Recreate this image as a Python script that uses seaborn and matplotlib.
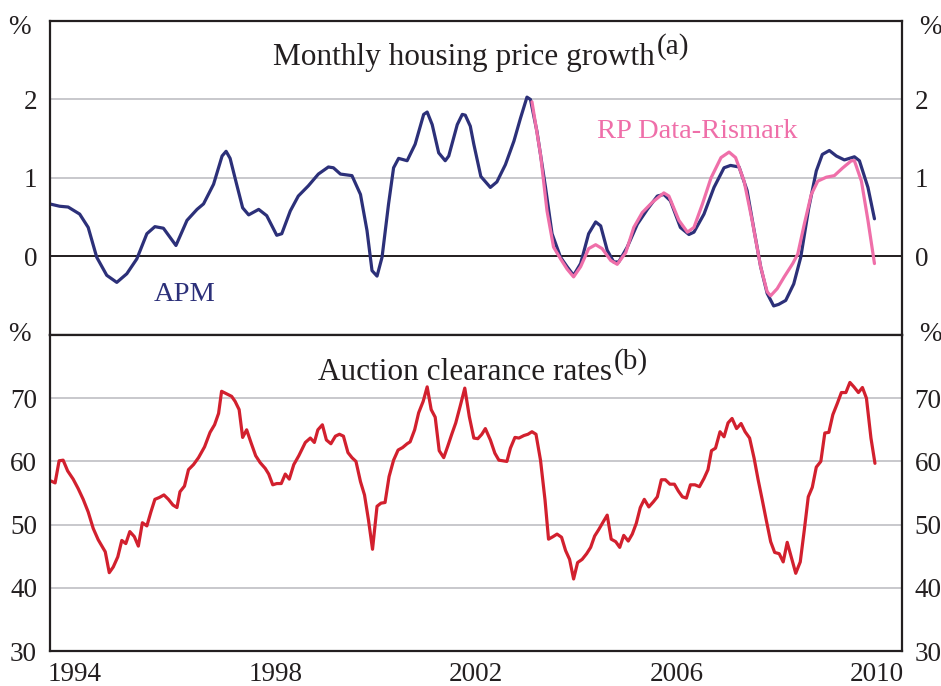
import matplotlib.pyplot as plt
import pandas as pd
import seaborn as sns

# monthly housing price growth, %
apm_year = [1994.0, 1994.2, 1994.37, 1994.6, 1994.77, 1994.94, 1995.14, 1995.34, 1995.54, 1995.74,
            1995.94, 1996.1, 1996.27, 1996.52, 1996.74, 1996.94, 1997.07, 1997.27, 1997.44, 1997.52,
            1997.6, 1997.73, 1997.85, 1997.97, 1998.17, 1998.33, 1998.53, 1998.63, 1998.8, 1998.96,
            1999.16, 1999.36, 1999.56, 1999.66, 1999.8, 2000.03, 2000.2, 2000.33, 2000.43, 2000.53,
            2000.63, 2000.76, 2000.86, 2000.96, 2001.13, 2001.29, 2001.46, 2001.53, 2001.63, 2001.76,
            2001.89, 2001.96, 2002.13, 2002.23, 2002.29, 2002.39, 2002.46, 2002.6, 2002.79, 2002.92,
            2003.09, 2003.26, 2003.39, 2003.52, 2003.59, 2003.72, 2003.89, 2004.02, 2004.19, 2004.32,
            2004.45, 2004.59, 2004.75, 2004.89, 2004.99, 2005.12, 2005.25, 2005.35, 2005.52, 2005.72,
            2005.92, 2006.12, 2006.25, 2006.38, 2006.58, 2006.75, 2006.85, 2007.05, 2007.25, 2007.45,
            2007.58, 2007.75, 2007.91, 2008.05, 2008.18, 2008.31, 2008.44, 2008.54, 2008.68, 2008.84,
            2008.98, 2009.14, 2009.29, 2009.41, 2009.55, 2009.69, 2009.85, 2010.05, 2010.15, 2010.32,
            2010.45]
apm_growth = [0.67, 0.64, 0.63, 0.54, 0.37, -0.01, -0.24, -0.33, -0.22, -0.03,
              0.29, 0.38, 0.36, 0.14, 0.46, 0.60, 0.67, 0.92, 1.28, 1.34,
              1.25, 0.92, 0.62, 0.53, 0.60, 0.52, 0.27, 0.29, 0.58, 0.77,
              0.90, 1.05, 1.14, 1.13, 1.05, 1.03, 0.79, 0.33, -0.18, -0.25,
              -0.01, 0.67, 1.13, 1.25, 1.22, 1.43, 1.81, 1.84, 1.68, 1.32,
              1.22, 1.28, 1.68, 1.81, 1.80, 1.66, 1.43, 1.02, 0.88, 0.95,
              1.17, 1.47, 1.76, 2.03, 2.00, 1.59, 0.88, 0.29, -0.01, -0.13,
              -0.24, -0.09, 0.29, 0.44, 0.39, 0.08, -0.07, -0.07, 0.12, 0.41,
              0.60, 0.77, 0.79, 0.71, 0.37, 0.28, 0.31, 0.54, 0.88, 1.13,
              1.16, 1.14, 0.84, 0.33, -0.13, -0.47, -0.63, -0.61, -0.56, -0.35,
              -0.01, 0.62, 1.09, 1.30, 1.35, 1.28, 1.23, 1.27, 1.22, 0.88,
              0.48]

rp_year = [2003.62, 2003.79, 2003.92, 2004.05, 2004.19, 2004.32, 2004.45, 2004.59, 2004.75, 2004.89,
           2005.02, 2005.19, 2005.32, 2005.49, 2005.65, 2005.82, 2006.02, 2006.25, 2006.35, 2006.55,
           2006.72, 2006.85, 2007.02, 2007.19, 2007.39, 2007.55, 2007.68, 2007.85, 2008.01, 2008.18,
           2008.31, 2008.38, 2008.51, 2008.65, 2008.82, 2008.92, 2009.05, 2009.19, 2009.32, 2009.49,
           2009.65, 2009.82, 2009.99, 2010.05, 2010.19, 2010.32, 2010.45]
rp_growth = [1.97, 1.30, 0.58, 0.12, -0.03, -0.16, -0.26, -0.13, 0.10, 0.15,
             0.10, -0.05, -0.10, 0.05, 0.37, 0.56, 0.69, 0.81, 0.77, 0.46,
             0.31, 0.37, 0.67, 1.00, 1.26, 1.33, 1.26, 0.96, 0.46, -0.13,
             -0.45, -0.50, -0.41, -0.26, -0.09, 0.03, 0.41, 0.79, 0.96, 1.01,
             1.03, 1.13, 1.22, 1.22, 0.96, 0.46, -0.09]

# auction clearance rates, %
auction_year = [1994.03, 1994.11, 1994.19, 1994.27, 1994.36, 1994.47, 1994.57, 1994.67, 1994.77, 1994.87,
                1994.97, 1995.11, 1995.19, 1995.27, 1995.36, 1995.44, 1995.52, 1995.6, 1995.69, 1995.77,
                1995.85, 1995.94, 1996.02, 1996.1, 1996.19, 1996.28, 1996.37, 1996.46, 1996.54, 1996.6,
                1996.69, 1996.77, 1996.87, 1996.97, 1997.09, 1997.2, 1997.29, 1997.37, 1997.43, 1997.53,
                1997.63, 1997.7, 1997.78, 1997.85, 1997.93, 1998.02, 1998.11, 1998.2, 1998.3, 1998.37,
                1998.45, 1998.53, 1998.62, 1998.7, 1998.78, 1998.87, 1998.97, 1999.1, 1999.2, 1999.28,
                1999.35, 1999.44, 1999.52, 1999.61, 1999.7, 1999.78, 1999.86, 1999.95, 2000.03, 2000.11,
                2000.2, 2000.28, 2000.36, 2000.44, 2000.53, 2000.61, 2000.69, 2000.77, 2000.86, 2000.95,
                2001.04, 2001.13, 2001.19, 2001.28, 2001.36, 2001.45, 2001.53, 2001.61, 2001.69, 2001.77,
                2001.86, 2001.94, 2002.02, 2002.1, 2002.19, 2002.28, 2002.37, 2002.46, 2002.54, 2002.62,
                2002.69, 2002.79, 2002.88, 2002.96, 2003.12, 2003.19, 2003.28, 2003.36, 2003.46, 2003.54,
                2003.62, 2003.7, 2003.79, 2003.88, 2003.95, 2004.04, 2004.12, 2004.21, 2004.29, 2004.37,
                2004.45, 2004.53, 2004.62, 2004.71, 2004.79, 2004.87, 2004.95, 2005.03, 2005.12, 2005.2,
                2005.29, 2005.37, 2005.45, 2005.54, 2005.62, 2005.7, 2005.78, 2005.86, 2005.95, 2006.04,
                2006.12, 2006.2, 2006.28, 2006.37, 2006.46, 2006.54, 2006.62, 2006.7, 2006.78, 2006.87,
                2006.96, 2007.05, 2007.13, 2007.2, 2007.28, 2007.37, 2007.45, 2007.53, 2007.61, 2007.7,
                2007.79, 2007.87, 2007.96, 2008.05, 2008.13, 2008.21, 2008.29, 2008.38, 2008.46, 2008.55,
                2008.63, 2008.71, 2008.79, 2008.88, 2008.97, 2009.05, 2009.13, 2009.21, 2009.29, 2009.38,
                2009.46, 2009.54, 2009.62, 2009.71, 2009.79, 2009.88, 2009.96, 2010.04, 2010.13, 2010.21,
                2010.29, 2010.38, 2010.46]
auction_rate = [56.9, 56.6, 60.1, 60.2, 58.5, 57.2, 55.7, 54.0, 52.0, 49.4,
                47.6, 45.7, 42.4, 43.3, 44.9, 47.5, 47.0, 48.9, 48.1, 46.6,
                50.3, 49.8, 52.0, 54.0, 54.3, 54.7, 54.0, 53.1, 52.7, 55.2,
                56.1, 58.7, 59.5, 60.6, 62.3, 64.6, 65.8, 67.6, 71.1, 70.7,
                70.3, 69.5, 68.2, 63.8, 65.0, 62.9, 60.9, 59.8, 58.9, 58.0,
                56.3, 56.5, 56.5, 58.0, 57.2, 59.5, 60.9, 63.0, 63.7, 63.0,
                65.0, 65.8, 63.4, 62.8, 64.0, 64.3, 64.0, 61.4, 60.6, 60.0,
                56.8, 54.7, 50.7, 46.1, 52.9, 53.4, 53.5, 57.6, 60.2, 61.8,
                62.2, 62.8, 63.1, 65.0, 67.7, 69.5, 71.8, 68.2, 67.0, 61.7,
                60.6, 62.4, 64.3, 66.1, 68.8, 71.6, 67.1, 63.7, 63.6, 64.3,
                65.2, 63.4, 61.3, 60.2, 60.0, 62.1, 63.8, 63.7, 64.1, 64.3,
                64.7, 64.3, 60.2, 53.9, 47.7, 48.1, 48.5, 48.0, 45.9, 44.5,
                41.4, 44.0, 44.5, 45.4, 46.4, 48.2, 49.2, 50.3, 51.5, 47.7,
                47.3, 46.4, 48.3, 47.4, 48.5, 50.2, 52.7, 54.0, 52.8, 53.6,
                54.4, 57.1, 57.1, 56.4, 56.4, 55.3, 54.4, 54.2, 56.3, 56.3,
                56.0, 57.3, 58.7, 61.7, 62.1, 64.7, 63.9, 66.1, 66.8, 65.2,
                66.0, 64.7, 63.7, 60.5, 57.1, 54.0, 50.8, 47.3, 45.6, 45.4,
                44.1, 47.2, 44.9, 42.3, 44.1, 49.1, 54.4, 55.9, 59.1, 60.0,
                64.5, 64.6, 67.4, 69.2, 70.9, 70.9, 72.5, 71.8, 70.9, 71.7,
                70.0, 63.7, 59.7]

growth_ticks = [0, 1, 2, 3]
rate_ticks = [30, 40, 50, 60, 70, 80]
year_ticks = list(range(1995, 2011))
year_labels = [1994, 1998, 2002, 2006, 2010]

NAVY = "#2c3079"
PINK = "#ef6fa9"
RED = "#d2202e"
GRID = "#c4c4c8"
INK = "#231f20"
FS = 19.5
TITLE_FS = 22.5

sns.set_style("white")
plt.rcParams["font.family"] = ["Liberation Serif", "DejaVu Serif"]

growth = pd.concat([
    pd.DataFrame({"year": apm_year, "growth": apm_growth, "series": "APM"}),
    pd.DataFrame({"year": rp_year, "growth": rp_growth, "series": "RP Data-Rismark"}),
])
auction = pd.DataFrame({"year": auction_year, "rate": auction_rate})

fig = plt.figure(figsize=(9.41, 6.86), dpi=100)
ax1 = fig.add_axes([0.0527, 0.5117, 0.9059, 0.4577])
ax2 = fig.add_axes([0.0527, 0.0510, 0.9059, 0.4606])

sns.lineplot(data=growth, x="year", y="growth", hue="series",
             palette={"APM": NAVY, "RP Data-Rismark": PINK},
             estimator=None, sort=False, linewidth=2.3, legend=False, ax=ax1)
sns.lineplot(data=auction, x="year", y="rate", color=RED,
             estimator=None, sort=False, linewidth=2.3, ax=ax2)

ax1.set_ylim(-1, 3)
ax2.set_ylim(30, 80)
for ax in (ax1, ax2):
    ax.set_xlim(1994, 2011)
    ax.set_xlabel("")
    ax.set_ylabel("")
    ax.set_axisbelow(True)
    ax.grid(axis="y", color=GRID, linewidth=1.3)
    ax.grid(axis="x", visible=False)
    ax.tick_params(axis="y", length=0, pad=9, labelsize=FS, labelright=True,
                   labelcolor=INK)
    for sp in ax.spines.values():
        sp.set_color(INK)
        sp.set_linewidth(1.6)
        sp.set_visible(True)

ax1.set_yticks(growth_ticks)
ax1.set_yticklabels(["0", "1", "2", ""])
ax1.set_xticks([])
ax1.axhline(0, color=INK, linewidth=1.4, zorder=1.5)

ax2.set_yticks(rate_ticks)
ax2.set_yticklabels(["30", "40", "50", "60", "70", ""])
ax2.set_xticks(year_ticks)
ax2.set_xticklabels([])
ax2.set_xticks([y + 0.5 for y in year_labels], minor=True)
ax2.set_xticklabels([str(y) for y in year_labels], minor=True)
ax2.tick_params(axis="x", which="major", direction="in", length=11, width=1.5, color=INK)
ax2.tick_params(axis="x", which="minor", length=0, pad=8, labelsize=FS, labelcolor=INK)

# unit markers on both sides of each panel
for ax, y in ((ax1, 0.978), (ax2, 1.003)):
    ax.text(-0.036, y, "%", transform=ax.transAxes, ha="center", va="center",
            fontsize=FS, color=INK)
    ax.text(1.0335, y, "%", transform=ax.transAxes, ha="center", va="center",
            fontsize=FS, color=INK)

# panel titles with superscript notes
t1 = ax1.text(0.2624, 0.86, "Monthly housing price growth", transform=ax1.transAxes,
              ha="left", va="baseline", fontsize=TITLE_FS, color=INK)
ax1.annotate("(a)", xy=(1, 0), xycoords=t1, xytext=(1, 13), textcoords="offset points",
             ha="left", va="baseline", fontsize=TITLE_FS - 1.5, color=INK)
t2 = ax2.text(0.3152, 0.8576, "Auction clearance rates", transform=ax2.transAxes,
              ha="left", va="baseline", fontsize=TITLE_FS, color=INK)
ax2.annotate("(b)", xy=(1, 0), xycoords=t2, xytext=(1, 13), textcoords="offset points",
             ha="left", va="baseline", fontsize=TITLE_FS - 1.5, color=INK)

ax1.text(1996.7, -0.49, "APM", ha="center", va="center", fontsize=20.5, color=NAVY)
ax1.text(2006.92, 1.59, "RP Data-Rismark", ha="center", va="center", fontsize=20.5, color=PINK)

fig.savefig("out.png", dpi=100)
